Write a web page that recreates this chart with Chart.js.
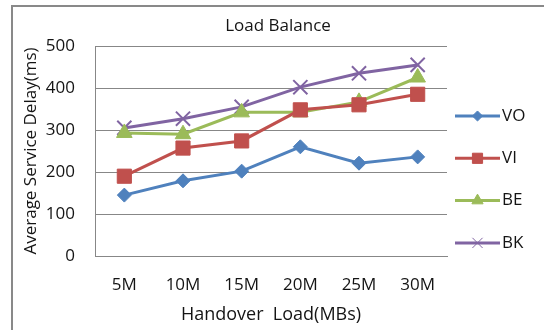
<!DOCTYPE html>
<html><head><meta charset="utf-8">
<script src="https://cdn.jsdelivr.net/npm/chart.js@4"></script>
<style>html,body{margin:0;padding:0;background:#fff}#wrap{width:544px;height:330px;position:relative}</style>
</head><body><div id="wrap"><canvas id="c" width="544" height="330"></canvas></div>
<script>
const categories = ['5M','10M','15M','20M','25M','30M'];
const seriesNames = ['VO','VI','BE','BK'];
const voValues = [145,179,202,260,221,236];
const viValues = [190,257,274,348,360,385];
const beValues = [293,290,342,342,367,425];
const bkValues = [305,327,355,402,435,455];
const yTickValues = [0,100,200,300,400,500];

const FONT = '"Open Sans", sans-serif';
const TEXT = '#141414';
const GRID = '#878787';

const colors = ['#4F81BD','#C0504D','#9BBB59','#8064A2'];
const styles = ['rectRot','rect','triangle','crossRot'];
const radii = [7,10,9,10];
const bws = [1,1,1,2];
const values = [voValues, viValues, beValues, bkValues];

const datasets = seriesNames.map((n,i)=>({
  label:n, data:values[i], borderColor:colors[i], backgroundColor:colors[i],
  borderWidth:3, pointStyle:styles[i], pointRadius:radii[i], pointHoverRadius:radii[i],
  pointBorderWidth:bws[i], pointBackgroundColor:colors[i], pointBorderColor:colors[i],
  tension:0, fill:false, yAxisID:'y'
}));

const frame = {id:'frame', beforeDraw(chart){
  const c = chart.ctx; c.save(); c.fillStyle='#898989';
  c.fillRect(11,5,533,2); c.fillRect(11,5,2,325); c.restore();
}};

const sideLegend = {id:'sideLegend', afterDraw(chart){
  const {ctx, chartArea} = chart;
  const x0 = chartArea.right + 8, x1 = x0 + 45;
  chart.data.datasets.forEach((ds,i)=>{
    const y = chartArea.top + 70 + i*42.3;
    ctx.save();
    ctx.strokeStyle = ds.borderColor; ctx.lineWidth = 3;
    ctx.beginPath(); ctx.moveTo(x0,y); ctx.lineTo(x1,y); ctx.stroke();
    ctx.fillStyle = ds.borderColor;
    const bw = ds.pointStyle === 'crossRot' ? 1 : ds.pointBorderWidth;
    ctx.lineWidth = bw;
    Chart.helpers.drawPoint(ctx, {pointStyle: ds.pointStyle, radius: ds.pointRadius*0.72, borderWidth: bw, rotation:0}, (x0+x1)/2, y);
    ctx.fillStyle = TEXT; ctx.font = '17px ' + FONT; ctx.textBaseline='middle'; ctx.textAlign='left';
    ctx.fillText(ds.label, x1 + 2, y);
    ctx.restore();
  });
}};

new Chart(document.getElementById('c'), {
  type:'line',
  data:{labels:categories, datasets},
  options:{
    responsive:false, animation:false, devicePixelRatio:1,
    layout:{padding:{left:12, right:0, top:7, bottom:4}},
    plugins:{
      legend:{display:false},
      tooltip:{enabled:false},
      title:{display:true, text:'Load Balance', color:TEXT, font:{family:FONT, size:17, weight:'normal'}, padding:{top:9, bottom:9.6}}
    },
    scales:{
      x:{
        offset:true,
        grid:{color:'transparent', drawTicks:false},
        border:{display:true, color:GRID, width:1},
        ticks:{color:TEXT, font:{family:FONT, size:17}, padding:19},
        title:{display:true, text:'Handover  Load(MBs)', color:TEXT, font:{family:FONT, size:18}, padding:{top:0,bottom:0}},
        afterFit(s){ s.height = 70; }
      },
      y:{
        min:0, max:500,
        afterBuildTicks(s){ s.ticks = yTickValues.map(v=>({value:v})); },
        grid:{color:GRID, drawTicks:false},
        border:{display:true, color:GRID, width:1},
        ticks:{color:TEXT, font:{family:FONT, size:17}, padding:20},
        title:{display:true, text:'Average Service Delay(ms)', color:TEXT, font:{family:FONT, size:17}, padding:{top:9,bottom:0}},
        afterFit(s){ s.width = 83; }
      },
      legendSpace:{
        position:'right', display:true,
        grid:{display:false, drawTicks:false}, border:{display:false},
        ticks:{display:false}, title:{display:false},
        afterFit(s){ s.width = 97; }
      }
    }
  },
  plugins:[frame, sideLegend]
});
</script></body></html>
